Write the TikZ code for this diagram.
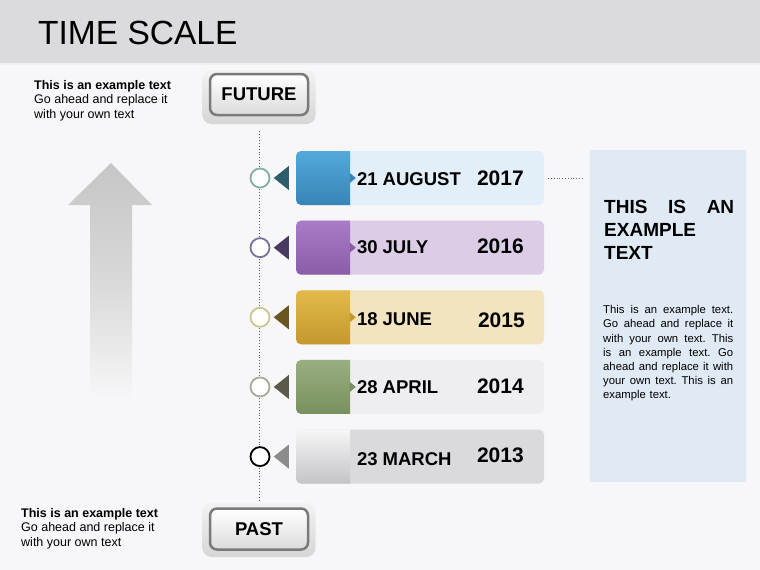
\documentclass[tikz,border=0pt]{standalone}
\usepackage{fontspec}
\setmainfont{Liberation Sans}
\definecolor{pagegray}{RGB}{247,247,249}
\definecolor{titlegray}{RGB}{219,218,221}
\definecolor{panelblue}{RGB}{224,234,245}
\definecolor{buttonedge}{RGB}{122,122,122}
\definecolor{augtop}{RGB}{82,170,216}
\definecolor{augbot}{RGB}{56,132,182}
\definecolor{auglight}{RGB}{226,238,248}
\definecolor{augdark}{RGB}{45,92,109}
\definecolor{augring}{RGB}{128,176,168}
\definecolor{jultop}{RGB}{168,124,198}
\definecolor{julbot}{RGB}{136,92,166}
\definecolor{jullight}{RGB}{220,204,230}
\definecolor{juldark}{RGB}{74,58,98}
\definecolor{julring}{RGB}{122,112,152}
\definecolor{juntop}{RGB}{226,186,74}
\definecolor{junbot}{RGB}{196,152,46}
\definecolor{junlight}{RGB}{242,228,192}
\definecolor{jundark}{RGB}{106,86,32}
\definecolor{junring}{RGB}{200,200,144}
\definecolor{aprtop}{RGB}{154,174,128}
\definecolor{aprbot}{RGB}{120,144,96}
\definecolor{aprlight}{RGB}{238,238,242}
\definecolor{aprdark}{RGB}{90,90,74}
\definecolor{aprring}{RGB}{168,171,152}
\definecolor{martop}{RGB}{246,246,246}
\definecolor{marbot}{RGB}{196,196,200}
\definecolor{marlight}{RGB}{218,218,222}
\definecolor{mardark}{RGB}{140,140,140}
\usetikzlibrary{positioning}
\newcommand{\spreadline}[1]{\makebox[130pt][s]{\frenchspacing\spaceskip=0.25em plus 1fil\relax #1}}
\newcommand{\panelline}[1]{\spreadline{#1}\\}
\tikzset{
  bar/.style n args={3}{rectangle, rounded corners=5pt, minimum width=248pt, minimum height=54pt, inner sep=0pt, fill=#3,
    path picture={\shade[sharp corners, top color=#1, bottom color=#2] (path picture bounding box.north west) rectangle ([xshift=54pt]path picture bounding box.south west);}},
  ring/.style={circle, draw=#1, line width=1.8pt, fill=white, minimum size=19pt, inner sep=0pt},
  datetext/.style={anchor=base west, inner sep=0pt, font=\fontsize{18.5}{22}\selectfont\bfseries},
  yeartext/.style={anchor=base west, inner sep=0pt, font=\fontsize{21}{25}\selectfont\bfseries},
  buttonout/.style={rectangle, rounded corners=9pt, minimum width=113pt, minimum height=54pt, top color=gray!10, bottom color=gray!32},
  buttonin/.style={rectangle, rounded corners=7pt, draw=buttonedge, line width=2.5pt, minimum width=98pt, minimum height=41pt, top color=white, bottom color=gray!28, font=\fontsize{18.5}{22}\selectfont\bfseries},
  notetext/.style={anchor=north west, inner sep=0pt, align=left, font=\fontsize{12.5}{14.7}\selectfont},
}
\begin{document}
\begin{tikzpicture}[x=1pt, y=-1pt, node distance=15.25pt]

    \fill[pagegray] (0,0) rectangle (760,570);
    \useasboundingbox (0,0) rectangle (760,570);
    \fill[titlegray] (0,0) rectangle (760,63);
    \fill[gray!12] (0,63) rectangle (760,65);
    \node[anchor=base west, inner sep=0pt, font=\fontsize{33.5}{40}\selectfont] (title) at (38,44) {TIME SCALE};

    \node[notetext] (topnote) at (34,80) {\textbf{This is an example text}\\Go ahead and replace it\\with your own text};
    \node[notetext] (bottomnote) at (21,508) {\textbf{This is an example text}\\Go ahead and replace it\\with your own text};

    \shade[top color=gray!45, bottom color=pagegray, middle color=gray!30] (111,163) -- (152,205) -- (132,205) -- (132,400) -- (90,400) -- (90,205) -- (68,205) -- cycle;

    \node[buttonout] (futout) at (259,97) {};
    \node[buttonin] (future) at (259,94.5) {FUTURE};
    \node[buttonout] (pastout) at (259,530) {};
    \node[buttonin] (past) at (259,529) {PAST};

    \draw[dotted, line width=0.9pt, gray!70!black, shorten <=7pt, shorten >=1pt] (futout.south) -- (pastout.north);

    \node[bar={augtop}{augbot}{auglight}] (b1) at (420,178) {};
    \node[bar={jultop}{julbot}{jullight}] (b2) [below=of b1] {};
    \node[bar={juntop}{junbot}{junlight}] (b3) [below=of b2] {};
    \node[bar={aprtop}{aprbot}{aprlight}] (b4) [below=of b3] {};
    \node[bar={martop}{marbot}{marlight}] (b5) [below=of b4] {};

    \node[ring=augring] (c1) at (260,178) {};
    \node[ring=julring] (c2) at (c1 |- b2) {};
    \node[ring=junring] (c3) at (c1 |- b3) {};
    \node[ring=aprring] (c4) at (c1 |- b4) {};
    \node[ring=black] (c5) at (c1 |- b5) {};

    \fill[augdark] ([xshift=-22pt]b1.west) -- ++(15,-12) -- ++(0,24) -- cycle;
    \fill[juldark] ([xshift=-22pt]b2.west) -- ++(15,-12) -- ++(0,24) -- cycle;
    \fill[jundark] ([xshift=-22pt]b3.west) -- ++(15,-12) -- ++(0,24) -- cycle;
    \fill[aprdark] ([xshift=-22pt]b4.west) -- ++(15,-12) -- ++(0,24) -- cycle;
    \fill[mardark] ([xshift=-22pt]b5.west) -- ++(15,-12) -- ++(0,24) -- cycle;

    \fill[augbot] ([shift={(54,-5)}]b1.west) -- ++(6,5) -- ++(-6,5) -- cycle;
    \fill[julbot] ([shift={(54,-5)}]b2.west) -- ++(6,5) -- ++(-6,5) -- cycle;
    \fill[junbot] ([shift={(54,-5)}]b3.west) -- ++(6,5) -- ++(-6,5) -- cycle;
    \fill[aprbot] ([shift={(54,-5)}]b4.west) -- ++(6,5) -- ++(-6,5) -- cycle;

    \node[datetext] (d1) at ([shift={(61,7)}]b1.west) {21 AUGUST};
    \node[datetext] (d2) at ([shift={(61,6)}]b2.west) {30 JULY};
    \node[datetext] (d3) at ([shift={(61,8)}]b3.west) {18 JUNE};
    \node[datetext] (d4) at ([shift={(61,7)}]b4.west) {28 APRIL};
    \node[datetext] (d5) at ([shift={(61,9)}]b5.west) {23 MARCH};

    \node[yeartext] (y1) at ([shift={(181,7)}]b1.west) {2017};
    \node[yeartext] (y2) at ([shift={(181,6)}]b2.west) {2016};
    \node[yeartext] (y3) at ([shift={(182,10)}]b3.west) {2015};
    \node[yeartext] (y4) at ([shift={(181,7)}]b4.west) {2014};
    \node[yeartext] (y5) at ([shift={(181,6)}]b5.west) {2013};

    \node[rectangle, fill=panelblue, minimum width=156pt, minimum height=332pt, inner sep=0pt] (panel) at (668,316) {};
    \draw[dotted, line width=0.8pt, gray!80!black, shorten <=4pt, shorten >=7pt] (b1.east) -- (b1.east -| panel.west);

    \node[anchor=north west, inner sep=0pt, text width=130pt, align=left, font=\fontsize{19}{23}\selectfont\bfseries] (heading) at (604,200) {\spreadline{THIS IS AN}\\EXAMPLE\\TEXT};
    \node[anchor=north west, inner sep=0pt, text width=130pt, align=left, font=\fontsize{11.3}{14.1}\selectfont] (body) at (603,305.5) {\panelline{This is an example text.}\panelline{Go ahead and replace it}\panelline{with your own text. This}\panelline{is an example text. Go}\panelline{ahead and replace it with}\panelline{your own text. This is an}example text.};

\end{tikzpicture}
\end{document}
